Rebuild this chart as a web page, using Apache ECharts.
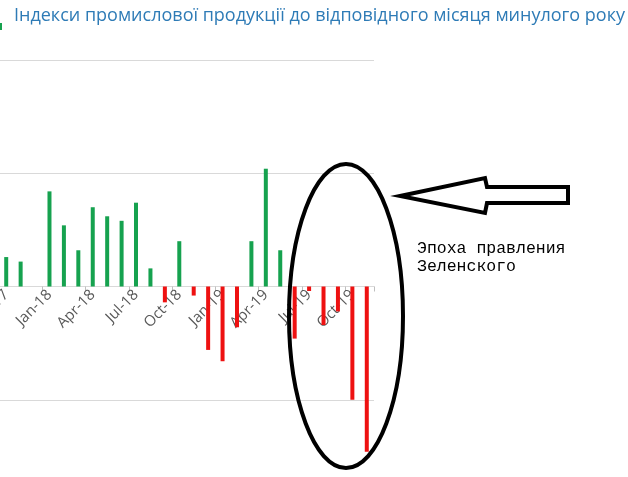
<!DOCTYPE html>
<html>
<head>
<meta charset="utf-8">
<script src="https://cdn.jsdelivr.net/npm/echarts@6/dist/echarts.min.js"></script>
<style>
html,body{margin:0;padding:0;background:#fff;}
#chart{width:628px;height:477px;}
</style>
</head>
<body>
<div id="chart"></div>
<script>
var categories = ['Oct-17','Nov-17','Dec-17','Jan-18','Feb-18','Mar-18','Apr-18','May-18','Jun-18','Jul-18','Aug-18','Sep-18','Oct-18','Nov-18','Dec-18','Jan-19','Feb-19','Mar-19','Apr-19','May-19','Jun-19','Jul-19','Aug-19','Sep-19','Oct-19','Nov-19'];
var values = [1.3,1.1,0.0,4.2,2.7,1.6,3.5,3.1,2.9,3.7,0.8,-0.7,2.0,-0.4,-2.8,-3.3,-1.8,2.0,5.2,1.6,-2.3,-0.2,-1.7,-1.1,-5.0,-7.3];
var titleText = 'Індекси промислової продукції до відповідного місяця минулого року';
var noteLines = ['Эпоха правления', 'Зеленского'];

var chart = echarts.init(document.getElementById('chart'), null, {renderer:'canvas'});
var option = {
  backgroundColor: '#ffffff',
  animation: false,
  title: {
    text: titleText,
    left: 9, top: 2,
    textStyle: {fontFamily: 'Open Sans', fontSize: 18, fontWeight: 'normal', color: '#2E7BB6'}
  },
  grid: {left: -1, width: 375, top: 60, height: 453, containLabel: false, outerBoundsMode: 'none'},
  xAxis: {
    type: 'category',
    data: categories,
    boundaryGap: true,
    position: 'bottom',
    offset: -226.5,
    z: 1,
    axisLine: {onZero: false, lineStyle: {color: '#d9d9d9', width: 1}},
    axisTick: {show: true, interval: 2, length: 5, lineStyle: {color: '#bfbfbf'}},
    axisLabel: {interval: 2, rotate: 45, margin: 6, fontFamily: 'Open Sans', fontSize: 15, color: '#595959'}
  },
  yAxis: {
    type: 'value',
    min: -10, max: 10, interval: 5,
    axisLabel: {show: false},
    axisLine: {show: false},
    axisTick: {show: false},
    splitLine: {lineStyle: {color: '#d9d9d9', width: 1}}
  },
  series: [{
    type: 'bar',
    data: values,
    barWidth: 4,
    z: 5,
    itemStyle: {
      color: function (p) { return p.value >= 0 ? '#16A24F' : '#EE1111'; }
    }
  }],
  graphic: [
    {type: 'rect', shape: {x: 0, y: 23, width: 2, height: 7}, style: {fill: '#16A24F'}},
    {type: 'ellipse', shape: {cx: 346, cy: 316, rx: 57, ry: 152}, style: {fill: 'none', stroke: '#000', lineWidth: 4}, z: 100},
    {type: 'polygon', shape: {points: [[400,196],[485,178],[487,187],[568,187],[568,203],[487,203],[485,213]]}, style: {fill: 'none', stroke: '#000', lineWidth: 4}, z: 100},
    {type: 'text', style: {x: 417, y: 249, text: noteLines[0], font: '16.5px "Liberation Mono"', fill: '#000', verticalAlign: 'middle'}, z: 100},
    {type: 'text', style: {x: 417, y: 267, text: noteLines[1], font: '16.5px "Liberation Mono"', fill: '#000', verticalAlign: 'middle'}, z: 100}
  ]
};
chart.setOption(option);
</script>
</body>
</html>
